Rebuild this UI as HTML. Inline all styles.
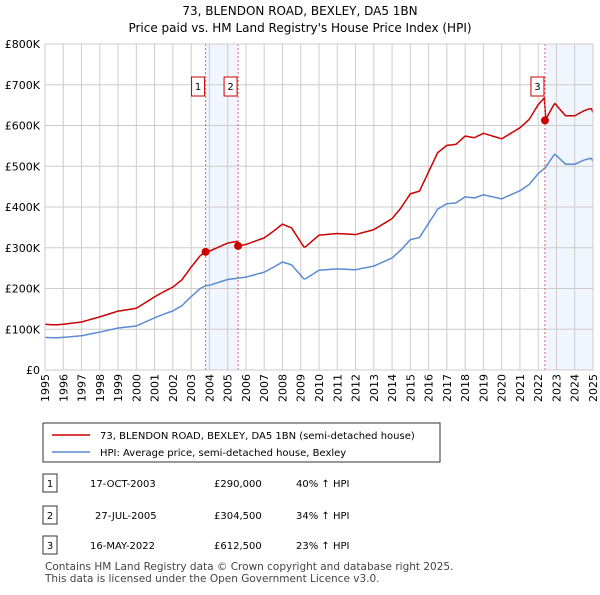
<!DOCTYPE html>
<html><head><meta charset="utf-8"><style>
body{margin:0;width:600px;height:590px;background:#fff;font-family:"Liberation Sans","DejaVu Sans",sans-serif;color:#222;overflow:hidden}
svg text{font-family:"DejaVu Sans","Liberation Sans",sans-serif}
</style></head><body>
<svg width="600" height="590">
<text x="300" y="15" text-anchor="middle" font-size="12">73, BLENDON ROAD, BEXLEY, DA5 1BN</text>
<text x="300" y="32" text-anchor="middle" font-size="12">Price paid vs. HM Land Registry's House Price Index (HPI)</text>
<g id="plot"></g>
<g id="legend">
<rect x="43" y="423" width="397" height="39" fill="#fff" stroke="#333"/>
<line x1="52" y1="435" x2="90" y2="435" stroke="#cc0000" stroke-width="1.5"/>
<text x="100" y="439" font-size="10">73, BLENDON ROAD, BEXLEY, DA5 1BN (semi-detached house)</text>
<line x1="52" y1="452" x2="90" y2="452" stroke="#5b8bd0" stroke-width="1.5"/>
<text x="100" y="456" font-size="10">HPI: Average price, semi-detached house, Bexley</text>
</g>
<g id="table" font-size="10"></g>
<text x="45" y="570" font-size="10.5" fill="#444">Contains HM Land Registry data © Crown copyright and database right 2025.</text>
<text x="45" y="582" font-size="10.5" fill="#444">This data is licensed under the Open Government Licence v3.0.</text>
</svg>
<script>
const hpiYears=[1995,1995.5,1996,1997,1998,1999,2000,2001,2001.5,2002,2002.5,2003,2003.5,2003.8,2004,2005,2006,2007,2007.5,2008,2008.5,2009.2,2010,2011,2012,2013,2014,2014.5,2015,2015.5,2016,2016.5,2017,2017.5,2018,2018.5,2019,2020,2020.5,2021,2021.5,2022,2022.4,2022.9,2023.5,2024,2024.5,2024.9,2025];
const hpiValues=[80,79,80,84,93,103,108,128,137,145,158,180,200,207,208,222,228,240,252,265,258,222,245,248,246,255,275,295,320,325,360,395,408,410,425,422,430,420,430,440,455,482,497,530,505,505,515,520,512];
const saleDates=[2003.79,2005.57,2022.37];
const salePrices=[290,304.5,612.5];
const saleLabels=["1","2","3"];
const saleDateText=["17-OCT-2003","27-JUL-2005","16-MAY-2022"];
const salePriceText=["£290,000","£304,500","£612,500"];
const saleHpiText=["40% ↑ HPI","34% ↑ HPI","23% ↑ HPI"];
const yTicks=[0,100,200,300,400,500,600,700,800];
const yTickLabels=["£0","£100K","£200K","£300K","£400K","£500K","£600K","£700K","£800K"];
const NS="http://www.w3.org/2000/svg";
const X0=45,X1=593,Y0=370,Y1=44;
const x=t=>X0+(t-1995)/(2025-1995)*(X1-X0);
const y=v=>Y0-v/800*(Y0-Y1);
const g=document.getElementById('plot');
function mk(tag,a,p){const e=document.createElementNS(NS,tag);for(const k in a)e.setAttribute(k,a[k]);(p||g).appendChild(e);return e;}
function hpiAt(t){for(let i=1;i<hpiYears.length;i++)if(t<=hpiYears[i]){const f=(t-hpiYears[i-1])/(hpiYears[i]-hpiYears[i-1]);return hpiValues[i-1]+f*(hpiValues[i]-hpiValues[i-1]);}return hpiValues[hpiValues.length-1];}
// shading
let s1=mk('rect',{x:x(saleDates[0]),y:Y1,width:x(saleDates[1])-x(saleDates[0]),height:Y0-Y1,fill:'#eef3fc',opacity:0.8});

let s2=mk('rect',{x:x(saleDates[2]),y:Y1,width:X1-x(saleDates[2]),height:Y0-Y1,fill:'#eef3fc',opacity:0.8});

// grid
for(let yr=1995;yr<=2025;yr++){const l=mk('line',{x1:x(yr),x2:x(yr),y1:Y1,y2:Y0,stroke:'#ccc'});
const t=mk('text',{x:0,y:0,'font-size':11,transform:`translate(${x(yr)+4},${Y0+32}) rotate(-90)`});t.textContent=yr;}
yTicks.forEach((v,i)=>{const l=mk('line',{x1:X0,x2:X1,y1:y(v),y2:y(v),stroke:'#ccc'});
const t=mk('text',{x:40,y:y(v)+4,'font-size':11,'text-anchor':'end'});t.textContent=yTickLabels[i];});
// HPI line
let d='';for(let t=1995;t<=2025.001;t+=1/12){d+=(d?'L':'M')+x(t).toFixed(1)+','+y(hpiAt(t)).toFixed(1);}
const hl=mk('path',{d:d,fill:'none',stroke:'#5b8bd0','stroke-width':1.5});
// property line
function factor(t){let k=0;for(let i=0;i<saleDates.length;i++)if(t>=saleDates[i])k=i;return salePrices[k]/hpiAt(saleDates[k]);}
d='';for(let t=1995;t<=2025.001;t+=1/12){const v=hpiAt(t)*(t<saleDates[0]?salePrices[0]/hpiAt(saleDates[0]):factor(t));d+=(d?'L':'M')+x(t).toFixed(1)+','+y(v).toFixed(1);}
const pl=mk('path',{d:d,fill:'none',stroke:'#cc0000','stroke-width':1.5});
// sale markers
saleDates.forEach((t,i)=>{const l=mk('line',{x1:x(t),x2:x(t),y1:Y1,y2:Y0,stroke:'#e06070','stroke-dasharray':'2,2'});
const c=mk('circle',{cx:x(t),cy:y(salePrices[i]),r:4,fill:'#cc0000'});
const bx=x(t)-16+2;const r=mk('rect',{x:bx,y:77,width:13,height:19,fill:'#fff',stroke:'#cc0000'});
const tx=mk('text',{x:bx+6.5,y:90,'font-size':10,'text-anchor':'middle'});tx.textContent=saleLabels[i];});
mk('rect',{x:X0,y:Y1,width:X1-X0,height:Y0-Y1,fill:'none',stroke:'#ccc'});
// table
const tb=document.getElementById('table');const rows=[484,516,546];
saleLabels.forEach((s,i)=>{const r=mk('rect',{x:43,y:rows[i]-10,width:14,height:18,fill:'#fff',stroke:'#333'},tb);
const a=mk('text',{x:50,y:rows[i]+3,'text-anchor':'middle'},tb);a.textContent=s;
const b=mk('text',{x:[90,95,90][i],y:rows[i]+3},tb);b.textContent=saleDateText[i];
const c=mk('text',{x:214,y:rows[i]+3},tb);c.textContent=salePriceText[i];
const e=mk('text',{x:296,y:rows[i]+3},tb);e.textContent=saleHpiText[i];});
</script>
</body></html>
